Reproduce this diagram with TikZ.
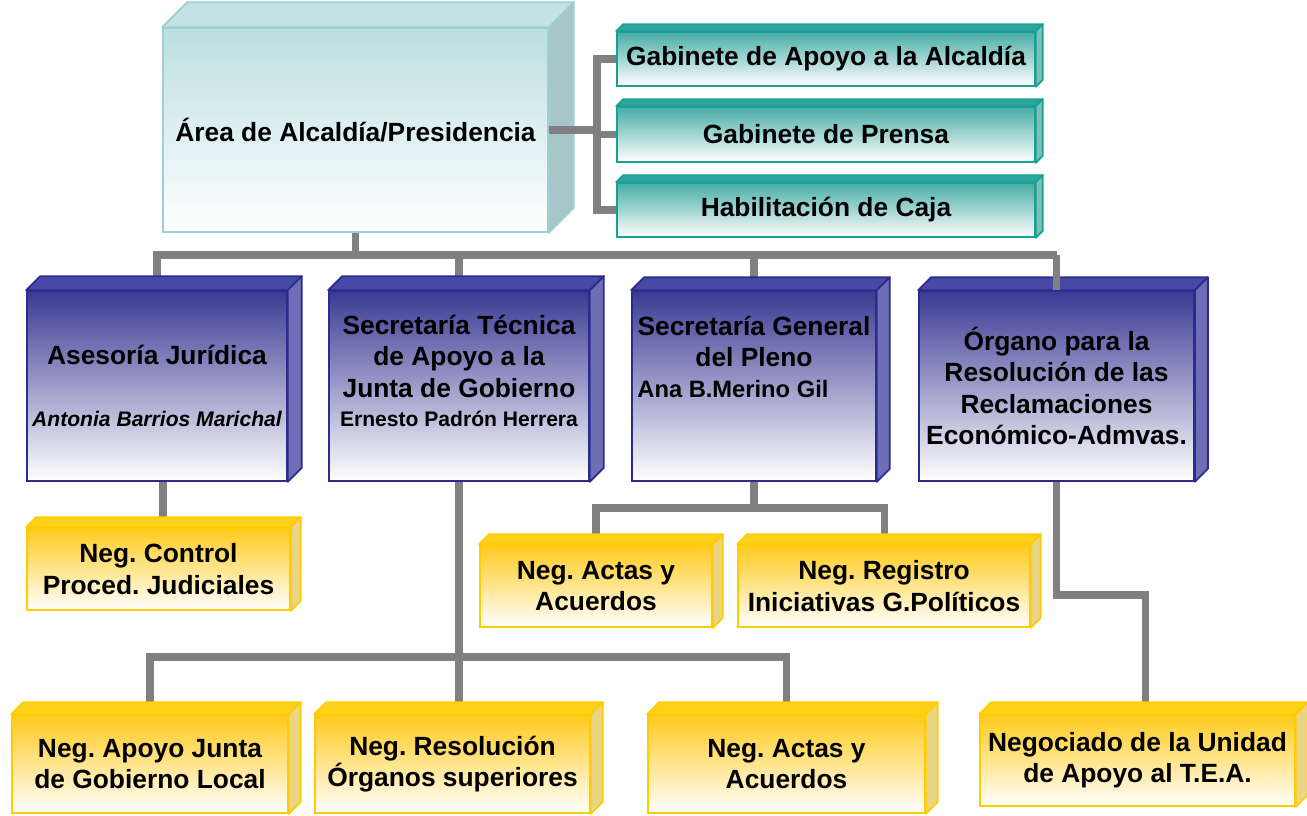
\documentclass[tikz,border=0pt]{standalone}
\usepackage{fontspec}
\setmainfont{Liberation Sans}
\usetikzlibrary{backgrounds}

\definecolor{linea}{HTML}{808080}
\definecolor{celesteBorde}{HTML}{9ECFD4}
\definecolor{celesteSup}{HTML}{BCDFE2}
\definecolor{celesteTapa}{HTML}{C2E2E5}
\definecolor{celesteLado}{HTML}{A6C6C8}
\definecolor{verdeBorde}{HTML}{17A096}
\definecolor{verdeSup}{HTML}{48ADA6}
\definecolor{verdeTapa}{HTML}{2EA59C}
\definecolor{verdeLado}{HTML}{7FBDB8}
\definecolor{azulBorde}{HTML}{2C2C90}
\definecolor{azulSup}{HTML}{3A3A94}
\definecolor{azulTapa}{HTML}{4848A6}
\definecolor{azulLado}{HTML}{6E6EB4}
\definecolor{amarilloBorde}{HTML}{FFCC00}
\definecolor{amarilloSup}{HTML}{FFCA1C}
\definecolor{amarilloTapa}{HTML}{FFD11A}
\definecolor{amarilloLado}{HTML}{E9D584}

\begin{document}
\begin{tikzpicture}
  [
    x = 0.02cm, y = -0.02cm,
    every node/.style = {font = \bfseries\frenchspacing\fontsize{15}{17.8}\selectfont, align = center, inner sep = 0pt},
    frente/.style = {rectangle, draw = #1Borde, line width = 1pt, top color = #1Sup, bottom color = white},
    tapa/.style = {fill = #1Tapa, draw = #1Borde, line width = 1pt, line join = round},
    lado/.style = {fill = #1Lado, draw = #1Borde, line width = 1pt, line join = round},
    conector/.style = {draw = linea, line width = 4pt}
  ]
    \useasboundingbox (0,0) rectangle (1307,815);

    \node (alcaldia) [frente = celeste, minimum width = 7.7cm, minimum height = 4.08cm] at (355.5,130) {Área de Alcaldía/Presidencia};
    \node (gabapoyo) [frente = verde, minimum width = 8.36cm, minimum height = 1.08cm] at (826,59) {Gabinete de Apoyo a la Alcaldía};
    \node (prensa) [frente = verde, minimum width = 8.36cm, minimum height = 1.1cm] at (826,134.5) {Gabinete de Prensa};
    \node (caja) [frente = verde, minimum width = 8.36cm, minimum height = 1.08cm] at (826,210) {Habilitación de Caja};

    \node (asesoria) [frente = azul, minimum width = 5.2cm, minimum height = 3.8cm] at (157,386) {Asesoría Jurídica\\[17pt]{\itshape\fontsize{12}{14}\selectfont Antonia Barrios Marichal}};
    \node (sectecnica) [frente = azul, minimum width = 5.2cm, minimum height = 3.8cm] at (459,386) {};
    \node (sectecnicatxt) at (459,371) {Secretaría Técnica\\de Apoyo a la\\Junta de Gobierno\\[-1pt]{\fontsize{12}{14}\selectfont Ernesto Padrón Herrera}};
    \node (secgeneral) [frente = azul, minimum width = 4.88cm, minimum height = 3.8cm] at (754,386) {};
    \node (secgeneraltxt) at (754,357) {Secretaría General\\del Pleno\\{\fontsize{13.5}{16}\selectfont Ana B.Merino Gil}\hspace*{24pt}};
    \node (organo) [frente = azul, minimum width = 5.5cm, minimum height = 3.8cm] at (1056.5,386) {Órgano para la\\Resolución de las\\Reclamaciones\\Económico-Admvas.};

    \node (negcontrol) [frente = amarillo, minimum width = 5.26cm, minimum height = 1.64cm] at (158.5,569) {Neg. Control\\Proced. Judiciales};
    \node (negactas) [frente = amarillo, minimum width = 4.64cm, minimum height = 1.64cm] at (596,586) {Neg. Actas y\\Acuerdos};
    \node (negregistro) [frente = amarillo, minimum width = 5.84cm, minimum height = 1.64cm] at (884,586) {Neg. Registro\\Iniciativas G.Políticos};
    \node (negjunta) [frente = amarillo, minimum width = 5.52cm, minimum height = 1.96cm] at (150,764) {Neg. Apoyo Junta\\de Gobierno Local};
    \node (negresolucion) [frente = amarillo, minimum width = 5.5cm, minimum height = 1.96cm] at (452.5,764) {Neg. Resolución\\Órganos superiores};
    \node (negactasdos) [frente = amarillo, minimum width = 5.54cm, minimum height = 1.96cm] at (786.5,764) {Neg. Actas y\\Acuerdos};
    \node (negtea) [frente = amarillo, minimum width = 6.3cm, minimum height = 1.82cm] at (1137.5,760.5) {Negociado de la Unidad\\de Apoyo al T.E.A.};

    % caras superior y lateral de cada caja
    \foreach \n/\d/\col in {alcaldia/25/celeste, gabapoyo/7/verde, prensa/7/verde, caja/7/verde,
      asesoria/14/azul, sectecnica/14/azul, secgeneral/13/azul, organo/13/azul,
      negcontrol/10/amarillo, negactas/10/amarillo, negregistro/10/amarillo,
      negjunta/12/amarillo, negresolucion/12/amarillo, negactasdos/12/amarillo, negtea/12/amarillo}
    {
      \filldraw [tapa = \col] (\n.north west) -- ++(\d,-\d) -- ([shift = {(\d,-\d)}]\n.north east) -- (\n.north east) -- cycle;
      \filldraw [lado = \col] (\n.north east) -- ([shift = {(\d,-\d)}]\n.north east) -- ([shift = {(\d,-\d)}]\n.south east) -- (\n.south east) -- cycle;
    }

    \coordinate (barra) at (0,255);
    \coordinate (barrados) at (0,657);
    \coordinate (barratres) at (0,508);
    \coordinate (rama) at (597,0);
    \coordinate (codo) at (1145,595);

    \begin{scope}[on background layer]
      \draw [conector] (alcaldia.south) -- (alcaldia.south |- barra);
      \draw [conector] (asesoria.north) -- (asesoria.north |- barra) -- (organo.north |- barra);
      \draw [conector] (sectecnica.north) -- (sectecnica.north |- barra);
      \draw [conector] (secgeneral.north) -- (secgeneral.north |- barra);
      \draw [conector] ([xshift = 0.12cm]asesoria.south) -- ([xshift = 0.12cm]asesoria.south |- negcontrol.north);
      \draw [conector] (sectecnica.south) -- (sectecnica.south |- negresolucion.north);
      \draw [conector] (negjunta.north) -- (negjunta.north |- barrados) -- (negactasdos.north |- barrados) -- (negactasdos.north);
      \draw [conector] (secgeneral.south) -- (secgeneral.south |- barratres);
      \draw [conector] (negactas.north) -- (negactas.north |- barratres) -- (negregistro.north |- barratres) -- (negregistro.north);
      \draw [conector] (organo.south) |- (codo) -- (codo |- negtea.north);
    \end{scope}

    \draw [conector] (organo.north |- barra) -- (organo.north);
    \draw [conector] (alcaldia.east) -- (alcaldia.east -| rama);
    \draw [conector] (gabapoyo.west) -- (gabapoyo.west -| rama) -- (caja.west -| rama) -- (caja.west);
    \draw [conector] (prensa.west) -- (prensa.west -| rama);
\end{tikzpicture}
\end{document}
